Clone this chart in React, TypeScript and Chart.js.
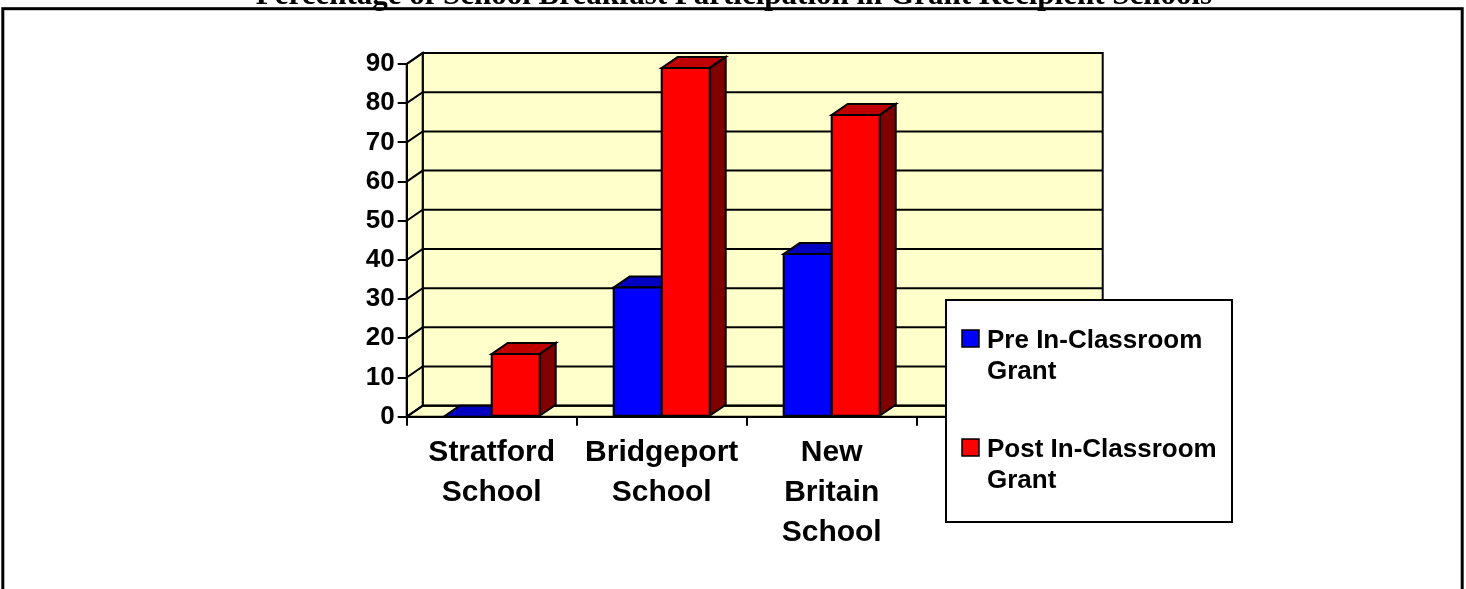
import React, { useEffect, useRef } from "react";
import { Chart, registerables } from "chart.js";

Chart.register(...registerables);

// ---------- data ----------
const TITLE = "Percentage of School Breakfast Participation in Grant Recipient Schools";
const categories: (string | string[])[] = [
  ["Stratford", "School"],
  ["Bridgeport", "School"],
  ["New", "Britain", "School"],
  "",
];
const seriesNames = ["Pre In-Classroom Grant", "Post In-Classroom Grant"];
const preValues: (number | null)[] = [0, 33, 41.5, null];
const postValues: (number | null)[] = [16, 89, 77, null];
const yMin = 0;
const yMax = 90;
const yStep = 10;

// ---------- styles ----------
const SANS = "'Liberation Sans', Arial, sans-serif";
const SERIF = "'Liberation Serif', 'Times New Roman', serif";
const frontColors = ["#0000FF", "#FF0000"];
const topColors = ["#0000C0", "#C00000"];
const sideColors = ["#000080", "#800000"];
const WALL = "#FFFFCC";
const DX = 16;
const DY = -11;

function poly(ctx: CanvasRenderingContext2D, pts: number[][], fill?: string) {
  ctx.beginPath();
  ctx.moveTo(pts[0][0], pts[0][1]);
  for (let i = 1; i < pts.length; i++) ctx.lineTo(pts[i][0], pts[i][1]);
  ctx.closePath();
  if (fill) {
    ctx.fillStyle = fill;
    ctx.fill();
  }
  ctx.stroke();
}

function wrap(ctx: CanvasRenderingContext2D, text: string, maxW: number): string[] {
  const words = text.split(" ");
  const lines: string[] = [];
  let cur = "";
  for (const w of words) {
    const t = cur ? cur + " " + w : w;
    if (ctx.measureText(t).width > maxW && cur) {
      lines.push(cur);
      cur = w;
    } else cur = t;
  }
  if (cur) lines.push(cur);
  return lines;
}

const threeD = {
  id: "threeD",
  beforeDraw(chart: any) {
    const { ctx, chartArea: a, scales } = chart;
    const y = scales.y;
    ctx.save();
    ctx.lineWidth = 2;
    ctx.strokeStyle = "#000";
    ctx.lineJoin = "miter";
    // back wall
    poly(ctx, [
      [a.left + DX, a.top + DY],
      [a.right + DX, a.top + DY],
      [a.right + DX, a.bottom + DY],
      [a.left + DX, a.bottom + DY],
    ], WALL);
    // side wall
    poly(ctx, [
      [a.left, a.top],
      [a.left + DX, a.top + DY],
      [a.left + DX, a.bottom + DY],
      [a.left, a.bottom],
    ], WALL);
    // floor
    poly(ctx, [
      [a.left, a.bottom],
      [a.right, a.bottom],
      [a.right + DX, a.bottom + DY],
      [a.left + DX, a.bottom + DY],
    ], WALL);
    // gridlines
    y.ticks.forEach((t: any) => {
      const py = y.getPixelForValue(t.value);
      ctx.beginPath();
      ctx.moveTo(a.left, py);
      ctx.lineTo(a.left + DX, py + DY);
      ctx.lineTo(a.right + DX, py + DY);
      ctx.stroke();
    });
    ctx.restore();
  },
  beforeDatasetDraw() {
    return false;
  },
  afterDatasetsDraw(chart: any) {
    const { ctx } = chart;
    const n = chart.data.labels.length;
    ctx.save();
    ctx.lineWidth = 2;
    ctx.strokeStyle = "#000";
    ctx.lineJoin = "miter";
    for (let i = 0; i < n; i++) {
      chart.data.datasets.forEach((ds: any, d: number) => {
        const v = ds.data[i];
        if (v === null || v === undefined) return;
        const el: any = chart.getDatasetMeta(d).data[i];
        const L = el.x - el.width / 2;
        const R = el.x + el.width / 2;
        const T = el.y;
        const B = el.base;
        poly(ctx, [[L, T], [R, T], [R + DX, T + DY], [L + DX, T + DY]], topColors[d]);
        if (B - T > 0.5) {
          poly(ctx, [[R, T], [R + DX, T + DY], [R + DX, B + DY], [R, B]], sideColors[d]);
          poly(ctx, [[L, T], [R, T], [R, B], [L, B]], frontColors[d]);
        }
      });
    }
    ctx.restore();
  },
  afterDraw(chart: any) {
    const { ctx } = chart;
    ctx.save();
    // legend
    const lx = 946, ly = 300, lw = 286, lh = 222;
    ctx.fillStyle = "#FFFFFF";
    ctx.fillRect(lx, ly, lw, lh);
    ctx.lineWidth = 2;
    ctx.strokeStyle = "#000";
    ctx.strokeRect(lx, ly, lw, lh);
    ctx.font = `bold 26px ${SANS}`;
    ctx.textAlign = "left";
    ctx.textBaseline = "alphabetic";
    chart.data.datasets.forEach((ds: any, d: number) => {
      const base = 348 + d * 109;
      ctx.fillStyle = frontColors[d];
      ctx.fillRect(962, base - 18, 17, 17);
      ctx.lineWidth = 1.5;
      ctx.strokeStyle = "#000";
      ctx.strokeRect(962, base - 18, 17, 17);
      ctx.fillStyle = "#000";
      const lines = wrap(ctx, ds.label, 240);
      lines.forEach((ln, k) => ctx.fillText(ln, 987, base + k * 31));
    });
    // outer frame
    ctx.lineWidth = 3;
    ctx.strokeStyle = "#000";
    ctx.strokeRect(2.8, 8.7, 1459.4, 700);
    // title (clipped at top of picture)
    ctx.fillStyle = "#000";
    ctx.font = `bold 31px ${SERIF}`;
    ctx.textAlign = "center";
    ctx.fillText(TITLE, 734, 4);
    ctx.restore();
  },
};

export default function App() {
  const ref = useRef<HTMLCanvasElement | null>(null);
  useEffect(() => {
    if (!ref.current) return;
    Chart.defaults.font.family = SANS;
    const chart = new Chart(ref.current, {
      type: "bar",
      data: {
        labels: categories as any,
        datasets: [
          { label: seriesNames[0], data: preValues as any, backgroundColor: frontColors[0] },
          { label: seriesNames[1], data: postValues as any, backgroundColor: frontColors[1] },
        ],
      },
      options: {
        animation: false,
        responsive: false,
        devicePixelRatio: 1,
        categoryPercentage: 0.565,
        barPercentage: 1.0,
        layout: { padding: { left: 346.7, right: 379.3, top: 64, bottom: 32.3 } },
        plugins: { legend: { display: false }, title: { display: false }, tooltip: { enabled: false } },
        scales: {
          x: {
            ticks: {
              color: "#000",
              font: { family: SANS, size: 30, weight: "bold", lineHeight: 1.333 },
              padding: 7,
              maxRotation: 0,
              autoSkip: false,
            },
            grid: { drawOnChartArea: false, tickLength: 9, color: "#000", lineWidth: 2, offset: true },
            border: { color: "#000", width: 2 },
            afterFit(s: any) {
              s.height = 140;
            },
          },
          y: {
            min: yMin,
            max: yMax,
            ticks: {
              stepSize: yStep,
              color: "#000",
              font: { family: SANS, size: 26, weight: "bold" },
              padding: 3,
            },
            grid: { drawOnChartArea: false, tickLength: 9, color: "#000", lineWidth: 2 },
            border: { color: "#000", width: 2 },
            afterFit(s: any) {
              s.width = 60;
            },
          },
        },
      } as any,
      plugins: [threeD as any],
    });
    return () => chart.destroy();
  }, []);
  return (
    <div style={{ position: "fixed", left: 0, top: 0, width: 1466, height: 589, background: "#fff" }}>
      <canvas ref={ref} width={1466} height={589} style={{ display: "block" }} />
    </div>
  );
}
